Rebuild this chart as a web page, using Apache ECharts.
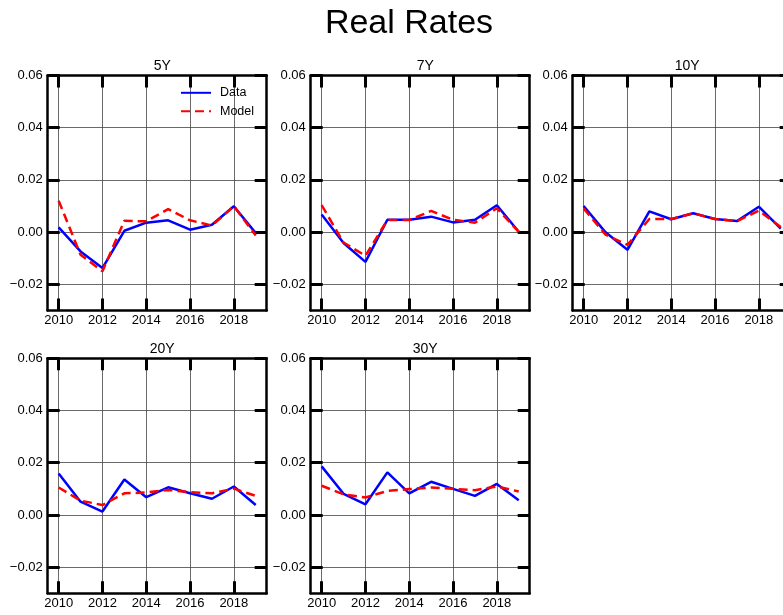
<!DOCTYPE html>
<html>
<head>
<meta charset="utf-8">
<script src="https://cdn.jsdelivr.net/npm/echarts@6/dist/echarts.min.js"></script>
<style>html,body{margin:0;padding:0;background:#fff}#c{width:783px;height:615px}</style>
</head>
<body>
<div id="c"></div>
<script>
const years = [2010, 2011, 2012, 2013, 2014, 2015, 2016, 2017, 2018, 2019];
const xTicks = [2010, 2012, 2014, 2016, 2018];
const yTicks = [-0.02, 0.00, 0.02, 0.04, 0.06];
const panelTitles = ['5Y', '7Y', '10Y', '20Y', '30Y'];

const data5Y  = [0.0018, -0.0074, -0.0138, 0.0005, 0.0036, 0.0045, 0.0009, 0.0028, 0.0099, -0.0004];
const model5Y = [0.0120, -0.0087, -0.0150, 0.0043, 0.0041, 0.0088, 0.0045, 0.0025, 0.0099, -0.0013];
const data7Y  = [0.0067, -0.0042, -0.0114, 0.0047, 0.0047, 0.0059, 0.0037, 0.0047, 0.0103, 0.0001];
const model7Y = [0.0103, -0.0040, -0.0091, 0.0046, 0.0046, 0.0081, 0.0047, 0.0036, 0.0091, 0.0001];
const data10Y  = [0.0100, -0.0001, -0.0068, 0.0079, 0.0049, 0.0072, 0.0050, 0.0042, 0.0097, 0.0013];
const model10Y = [0.0090, -0.0010, -0.0049, 0.0050, 0.0050, 0.0072, 0.0050, 0.0042, 0.0082, 0.0019];
const data20Y  = [0.0159, 0.0051, 0.0013, 0.0136, 0.0068, 0.0106, 0.0083, 0.0062, 0.0109, 0.0038];
const model20Y = [0.0105, 0.0055, 0.0038, 0.0083, 0.0086, 0.0096, 0.0087, 0.0083, 0.0101, 0.0073];
const data30Y  = [0.0186, 0.0081, 0.0041, 0.0163, 0.0083, 0.0127, 0.0100, 0.0073, 0.0119, 0.0056];
const model30Y = [0.0112, 0.0079, 0.0067, 0.0092, 0.0099, 0.0105, 0.0100, 0.0095, 0.0109, 0.0090];

const dataSets = [data5Y, data7Y, data10Y, data20Y, data30Y];
const modelSets = [model5Y, model7Y, model10Y, model20Y, model30Y];

const FONT = 'Liberation Sans, Arial, Helvetica, sans-serif';
const pos = [
  {left: 47.7, top: 75.4},
  {left: 310.7, top: 75.4},
  {left: 572.7, top: 75.4},
  {left: 47.7, top: 358.3},
  {left: 310.7, top: 358.3}
];
const W = 219, H = 235;

const grids = [], xAxes = [], yAxes = [], series = [], titles = [];
titles.push({text: 'Real Rates', left: 404, top: 2, textAlign: 'center',
  textStyle: {fontFamily: FONT, fontSize: 34, fontWeight: 'normal', color: '#000'}});

function fmtY(v) {
  const s = Math.abs(v).toFixed(2);
  return (v < -1e-9 ? '\u2212' : '') + s;
}

pos.forEach((p, i) => {
  grids.push({left: p.left, top: p.top, width: W, height: H, outerBoundsMode: 'none', containLabel: false});
  titles.push({text: panelTitles[i], left: p.left + W / 2, top: p.top - 21, textAlign: 'center',
    textStyle: {fontFamily: FONT, fontSize: 14, fontWeight: 'normal', color: '#000'}});
  const axLine = {show: true, onZero: false, lineStyle: {color: '#000', width: 2.5}};
  xAxes.push({type: 'value', gridIndex: i, min: 2009.5, max: 2019.5, position: 'bottom',
    axisLine: axLine,
    axisTick: {show: true, inside: true, length: 12, customValues: xTicks, lineStyle: {color: '#000', width: 3}},
    axisLabel: {show: true, customValues: xTicks, margin: 4, fontFamily: FONT, fontSize: 13, color: '#000', formatter: v => String(v)},
    splitLine: {show: true, lineStyle: {color: '#444', width: 0.8}}
  });
  xAxes.push({type: 'value', gridIndex: i, min: 2009.5, max: 2019.5, position: 'top',
    axisLine: axLine,
    axisTick: {show: true, inside: true, length: 12, customValues: xTicks, lineStyle: {color: '#000', width: 3}},
    axisLabel: {show: false}, splitLine: {show: false}
  });
  yAxes.push({type: 'value', gridIndex: i, min: -0.03, max: 0.06, position: 'left',
    axisLine: axLine,
    axisTick: {show: true, inside: true, length: 12, customValues: yTicks, lineStyle: {color: '#000', width: 3}},
    axisLabel: {show: true, customValues: yTicks, margin: 5, fontFamily: FONT, fontSize: 13, color: '#000', formatter: fmtY},
    splitLine: {show: true, lineStyle: {color: '#444', width: 0.8}}
  });
  yAxes.push({type: 'value', gridIndex: i, min: -0.03, max: 0.06, position: 'right',
    axisLine: axLine,
    axisTick: {show: true, inside: true, length: 12, customValues: yTicks, lineStyle: {color: '#000', width: 3}},
    axisLabel: {show: false}, splitLine: {show: false}
  });
  series.push({name: 'Data', type: 'line', xAxisIndex: 2 * i, yAxisIndex: 2 * i,
    data: years.map((y, k) => [y, dataSets[i][k]]), symbol: 'none', silent: true,
    lineStyle: {color: '#0000ff', width: 2.5}, itemStyle: {color: '#0000ff'}, z: 3});
  series.push({name: 'Model', type: 'line', xAxisIndex: 2 * i, yAxisIndex: 2 * i,
    data: years.map((y, k) => [y, modelSets[i][k]]), symbol: 'none', silent: true,
    lineStyle: {color: '#ff0000', width: 2.5, type: [9, 5]}, itemStyle: {color: '#ff0000'}, z: 4});
});

const chart = echarts.init(document.getElementById('c'), null, {renderer: 'canvas'});
chart.setOption({
  animation: false,
  backgroundColor: '#fff',
  title: titles,
  grid: grids,
  xAxis: xAxes,
  yAxis: yAxes,
  series: series,
  legend: {show: true, orient: 'vertical', left: 180, top: 86.3, padding: 0, itemWidth: 30, itemHeight: 14, itemGap: 5.4,
    data: ['Data', 'Model'], itemStyle: {opacity: 0},
    textStyle: {fontFamily: FONT, fontSize: 12.5, color: '#000', padding: [0, 0, 0, 4]}}
});
</script>
</body>
</html>
